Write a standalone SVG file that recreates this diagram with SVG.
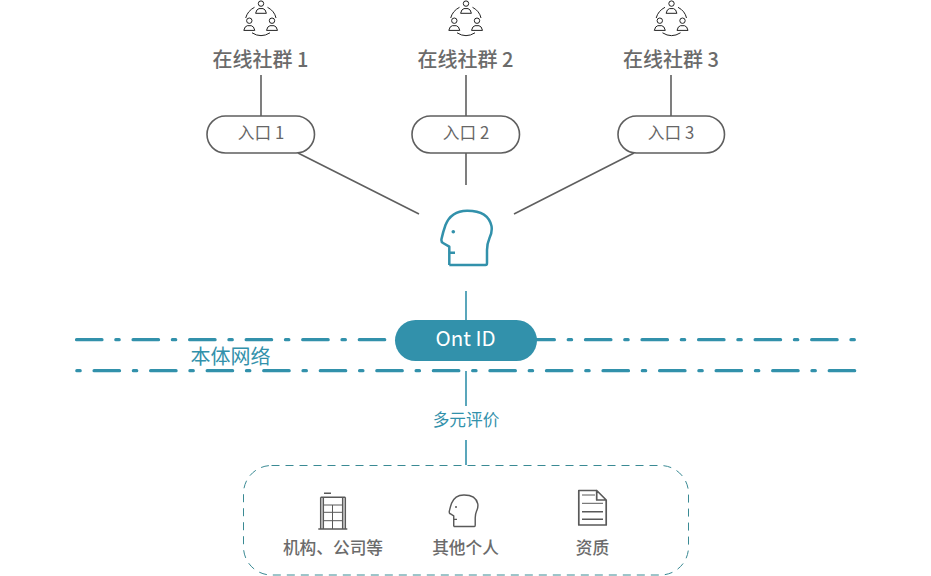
<svg xmlns="http://www.w3.org/2000/svg" xmlns:xlink="http://www.w3.org/1999/xlink" width="931" height="576" viewBox="0 0 931 576">
<style>
text{font-family:"Noto Sans CJK SC","Noto Sans",sans-serif;text-anchor:middle;font-weight:400}
.g{fill:#666}
.m{font-weight:500;fill:#6b6b6b}
.t{fill:#3291ab}
.l20{font-size:20px}
.l16{font-size:16.700px}
.cg{fill:none;stroke:#5f5f5f;stroke-width:1.600}
.ct{fill:none;stroke:#3291ab;stroke-width:1.600}
.pill{fill:#fff;stroke:#5f5f5f;stroke-width:1.600}
.dd{fill:none;stroke:#3291ab;stroke-width:3.200;stroke-linecap:round;stroke-dasharray:25.5 13.8 3.4 13.85}
.ic{fill:none;stroke:#222;stroke-width:1;stroke-linejoin:round}
.bld{fill:none;stroke:#595959;stroke-width:1.500}
</style>
<defs>
<path id="head" d="M449.300 265H485.500Q487 265 487 263V250Q487 244 489.500 238Q492.500 232 491.500 226Q488 210.500 467 210.700Q451 211 445.500 225Q443 232 441.500 239Q441 242 443 243L449.300 246.700V265M449.300 252.700H455"/>
<g id="people" class="ic">
<circle cx="261" cy="3.600" r="2.700"/><path d="M255.600 13.300Q256.500 9 259 8.600H263Q265.500 9 266.400 13.300Z"/>
<circle cx="249.300" cy="20.700" r="2.700"/><path d="M243.800 30.400Q244.800 26 247.300 25.700H251.300Q253.800 26 254.800 30.400Z"/>
<circle cx="272" cy="20.700" r="2.700"/><path d="M266.500 30.400Q267.500 26 270 25.700H274Q276.500 26 277.500 30.400Z"/>
<path d="M245.700 18Q247.500 11 254.500 7.300M267.500 7.300Q274.500 11 276 18M252 32.800Q261 38.500 270 32.800"/>
</g>
</defs>

<g id="connectors">
<path class="cg" d="M261 75V116M466 75V116M671 75V116M298 153L419 214M466 153V185M634 153L514 214"/>
<path class="ct" d="M466 291V320M466 371V406M466 440V465"/>
<path class="dd" d="M76.500 339.700H856"/>
<path class="dd" style="stroke-dasharray:3.4 13.85 25.5 13.8" d="M76.800 370.700H857"/>
</g>

<g id="community-1"><use href="#people"/><text class="m l20" x="260.500" y="66.500">在线社群 1</text></g>
<g id="community-2"><use href="#people" x="205"/><text class="m l20" x="465.500" y="66.500">在线社群 2</text></g>
<g id="community-3"><use href="#people" x="410.500"/><text class="m l20" x="671" y="66.500">在线社群 3</text></g>

<g id="entry-1"><rect class="pill" x="207" y="116" width="107.500" height="37" rx="18.500"/><text class="g l16" x="261" y="139">入口 1</text></g>
<g id="entry-2"><rect class="pill" x="412" y="116" width="107.500" height="37" rx="18.500"/><text class="g l16" x="466" y="139">入口 2</text></g>
<g id="entry-3"><rect class="pill" x="618" y="116" width="106.500" height="37" rx="18.500"/><text class="g l16" x="671" y="139">入口 3</text></g>

<g id="person">
<use href="#head" fill="none" stroke="#3291ab" stroke-width="2.500" stroke-linejoin="round"/>
<circle cx="453.300" cy="231.700" r="1.800" fill="#3291ab"/>
</g>

<g id="ont-id"><rect x="395" y="320" width="142" height="41" rx="20.500" fill="#3291ab"/><text x="465.500" y="346" font-size="20.500" fill="#fff">Ont ID</text></g>

<g id="ontology-label"><text class="t l20" x="230.500" y="364">本体网络</text></g>
<g id="evaluation-label"><text class="t l16" x="466" y="425.500">多元评价</text></g>

<g id="sources">
<rect x="243.500" y="465.500" width="445" height="109.500" rx="28" fill="none" stroke="#3a8a94" stroke-width="1" stroke-dasharray="8 6"/>
</g>

<g id="org">
<path class="bld" d="M324 493.300H331M320.700 497.300H345.300M318.300 529H347.300M320.700 497.300V529M323.300 497.300V529M345.300 497.300V529M342.700 497.300V529"/>
<path d="M332.500 505V529M323.300 505H342.700M323.300 512.300H342.700M323.300 520.700H342.700" fill="none" stroke="#595959" stroke-width="1"/>
<text class="m l16" x="333" y="553.500">机构、公司等</text>
</g>
<g id="individual">
<use href="#head" transform="translate(449 495) scale(.57 .58) translate(-441 -210.700)" fill="none" stroke="#595959" stroke-width="2.500" stroke-linejoin="round"/>
<circle cx="456" cy="507" r="1" fill="#595959"/>
<text class="m l16" x="465.500" y="553.500">其他个人</text>
</g>
<g id="credentials">
<path d="M596.700 490.500H578.800V525H606.200V500L596.700 490.500V500H606.200" fill="none" stroke="#595959" stroke-width="1.700" stroke-linejoin="round"/>
<path d="M582 495H595M582 503.300H603" fill="none" stroke="#595959" stroke-width="1"/>
<path d="M582 511.700H603M582 519.300H603" fill="none" stroke="#595959" stroke-width="1.500"/>
<text class="m l16" x="592.500" y="553.500">资质</text>
</g>
</svg>
